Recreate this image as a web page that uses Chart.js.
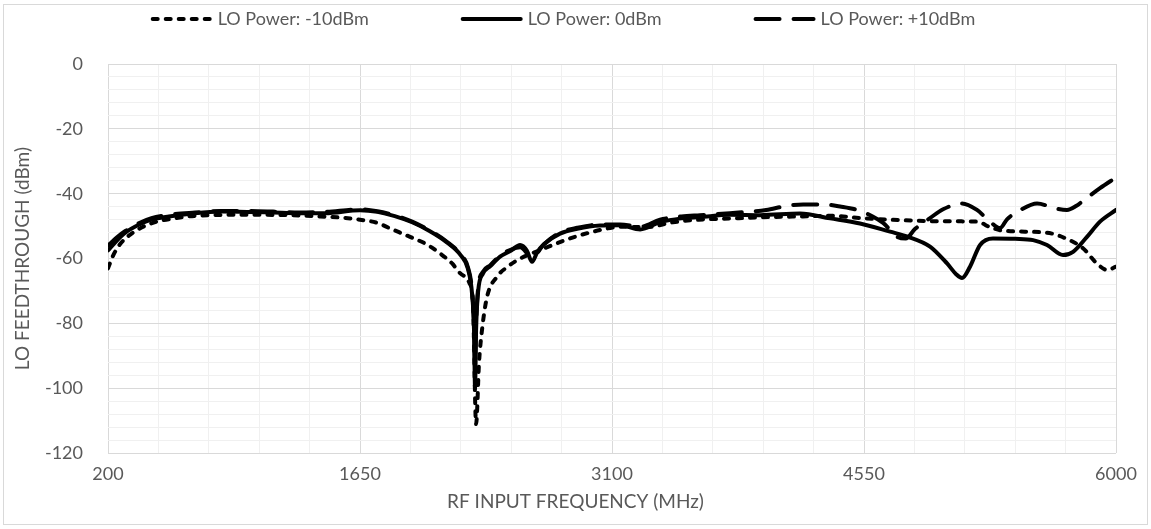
<!DOCTYPE html>
<html>
<head>
<meta charset="utf-8">
<script src="https://cdn.jsdelivr.net/npm/chart.js@4"></script>
<style>
html,body{margin:0;padding:0;background:#fff;}
#wrap{width:1151px;height:529px;position:relative;}
</style>
</head>
<body>
<div id="wrap"><canvas id="c" width="1151" height="529"></canvas></div>
<script>
// ---- data ----
const seriesNames = ["LO Power: -10dBm", "LO Power: 0dBm", "LO Power: +10dBm"];

const freqM10 = [200,230,270,330,440,580,780,1000,1250,1420,1550,1650,1750,1823,1938,2030,2110,2180,2226,2280,2300,2318,2335,2352,2381,2438,2500,2571,2686,2858,3031,3150,3300,3450,3600,3800,4000,4200,4355,4550,4843,5000,5200,5275,5350,5600,5720,5810,5890,5950,6000];
const valsM10 = [-63,-59,-55.5,-52.5,-49.3,-47.6,-46.6,-46.5,-46.6,-47,-47.4,-48,-49,-50.7,-53.3,-55.5,-58.4,-61.5,-64.5,-67.6,-74,-111,-92,-82,-71.8,-65.6,-62.5,-60,-57.4,-53.8,-51.2,-50.2,-50.3,-48.8,-48,-47.6,-47.2,-47,-46.8,-47.6,-48.3,-48.5,-48.6,-50.3,-51.4,-52,-54,-56.8,-61.5,-63.5,-62.5];

const freq0 = [200,250,300,380,450,550,700,850,1000,1150,1300,1450,1650,1750,1850,1950,2050,2150,2230,2270,2295,2306,2312,2318,2330,2358,2400,2456,2520,2571,2610,2640,2670,2710,2801,2900,3031,3147,3262,3376,3500,3606,3779,3952,4182,4355,4527,4700,4800,4930,5028,5080,5114,5160,5218,5292,5420,5523,5603,5695,5753,5833,5908,6000];
const vals0 = [-57.5,-54.5,-52,-49.5,-48,-47,-46,-45.5,-45.6,-45.8,-46,-46,-45.1,-45.6,-46.9,-48.8,-51.5,-55,-59,-63,-71,-82,-100,-82,-70,-64.6,-62.3,-59.4,-57.5,-55.8,-57.5,-61,-58,-55.5,-52.3,-50.8,-49.8,-49.7,-51,-48.8,-47.6,-47.2,-46.5,-46.6,-46.1,-47.6,-49.2,-51.7,-53.2,-56.3,-61.5,-64.8,-66,-62.5,-55.8,-53.8,-53.9,-54.3,-55.8,-58.9,-57.9,-53.3,-48.6,-45];

const freqP10 = [200,250,300,380,450,550,700,850,1000,1150,1300,1450,1650,1750,1850,1950,2050,2150,2230,2270,2295,2306,2312,2318,2330,2358,2400,2456,2520,2571,2640,2710,2801,2900,3031,3147,3262,3376,3500,3606,3779,3987,4100,4200,4315,4420,4510,4600,4660,4745,4790,4843,4930,5005,5114,5200,5275,5333,5373,5450,5546,5649,5718,5770,5822,5908,6000];
const valsP10 = [-56,-53.5,-51.5,-49,-47.5,-46.5,-45.8,-45.3,-45.3,-45.5,-45.8,-45.6,-44.8,-45.4,-46.7,-48.6,-51.3,-54.8,-58.8,-62.5,-70,-80,-92,-80,-69,-64,-62,-59,-57.2,-56.5,-59.5,-55.5,-52,-50.5,-49.5,-49.5,-50.2,-48,-47,-46.6,-46,-45,-43.8,-43.3,-43.3,-44,-45,-47,-49,-53.4,-53.8,-50.9,-47.5,-44.8,-43,-45,-48.6,-50.6,-47.9,-45,-43,-44.5,-45,-43.8,-41.7,-38.3,-35];

const xTickLabels = [200, 1650, 3100, 4550, 6000];
const yTickLabels = [0, -20, -40, -60, -80, -100, -120];

// ---- chart ----
function pts(fs, vs){ return fs.map((f,i)=>({x:f, y:vs[i]})); }
const TXT = '#595959';
const FONT = 'Lato';

const customLegend = {
  id: 'customLegend',
  afterDraw(chart){
    const ctx = chart.ctx;
    const ds = chart.data.datasets;
    const sw = 62, gap = 5, G = 92, cy = 19;
    ctx.save();
    ctx.font = '18px ' + FONT;
    const widths = ds.map(d => ctx.measureText(d.label).width);
    let total = 0;
    widths.forEach(w => total += sw + gap + w);
    total += G * (ds.length - 1);
    let x = 563 - total / 2;
    ds.forEach((d, i) => {
      ctx.beginPath();
      ctx.strokeStyle = d.borderColor;
      ctx.lineWidth = d.borderWidth;
      ctx.lineCap = d.borderCapStyle || 'butt';
      ctx.setLineDash(d.borderDash || []);
      const inset = (d.borderCapStyle === 'round') ? d.borderWidth/2 : 0;
      ctx.moveTo(x + inset, cy);
      ctx.lineTo(x + sw - inset, cy);
      ctx.stroke();
      ctx.setLineDash([]);
      ctx.fillStyle = TXT;
      ctx.textBaseline = 'middle';
      ctx.textAlign = 'left';
      ctx.fillText(d.label, x + sw + gap, cy);
      x += sw + gap + widths[i] + G;
    });
    ctx.restore();
  }
};

const frame = {
  id: 'frame',
  beforeDraw(chart){
    const ctx = chart.ctx;
    ctx.save();
    ctx.fillStyle = '#fff';
    ctx.fillRect(0, 0, chart.width, chart.height);
    ctx.strokeStyle = '#d9d9d9';
    ctx.lineWidth = 1;
    ctx.strokeRect(3.5, 4.5, 1144, 520);
    ctx.restore();
  }
};

new Chart(document.getElementById('c'), {
  type: 'line',
  data: {
    datasets: [
      { label: seriesNames[0], data: pts(freqM10, valsM10), borderColor: '#000', borderWidth: 4, borderDash: [5, 8], borderCapStyle: 'round', pointRadius: 0, cubicInterpolationMode: 'monotone', fill: false },
      { label: seriesNames[1], data: pts(freq0, vals0), borderColor: '#000', borderWidth: 4, borderCapStyle: 'round', borderJoinStyle: 'round', pointRadius: 0, cubicInterpolationMode: 'monotone', fill: false },
      { label: seriesNames[2], data: pts(freqP10, valsP10), borderColor: '#000', borderWidth: 4, borderDash: [24, 14], borderCapStyle: 'round', pointRadius: 0, cubicInterpolationMode: 'monotone', fill: false }
    ]
  },
  options: {
    responsive: false,
    animation: false,
    devicePixelRatio: 1,
    layout: { padding: { top: 64, left: 3, right: 3, bottom: 0 } },
    plugins: {
      legend: { display: false },
      tooltip: { enabled: false },
      title: {
        display: true, position: 'bottom', text: 'RF INPUT FREQUENCY (MHz)',
        color: TXT, font: { family: FONT, size: 19, weight: 'normal' },
        padding: { top: 0, bottom: 16 }
      }
    },
    scales: {
      x: {
        type: 'linear', min: 200, max: 6000,
        ticks: {
          stepSize: 290, autoSkip: false, maxRotation: 0, padding: 10,
          color: TXT, font: { family: FONT, size: 18 },
          callback: v => xTickLabels.includes(v) ? String(v) : ''
        },
        grid: {
          drawTicks: false,
          color: c => xTickLabels.includes(c.tick && c.tick.value) ? '#d9d9d9' : '#f0f0f0'
        },
        border: { display: false },
        afterFit: s => { s.height = 37; }
      },
      y: {
        type: 'linear', min: -120, max: 0,
        ticks: {
          stepSize: 4, autoSkip: false, padding: 25,
          color: TXT, font: { family: FONT, size: 18 },
          callback: v => yTickLabels.includes(v) ? String(v) : ''
        },
        grid: {
          drawTicks: false,
          color: c => yTickLabels.includes(c.tick && c.tick.value) ? '#d9d9d9' : '#f0f0f0'
        },
        border: { display: false },
        title: {
          display: true, text: 'LO FEEDTHROUGH (dBm)', color: TXT,
          font: { family: FONT, size: 19 }, padding: { top: 8, bottom: 0 }
        },
        afterFit: s => { s.width = 105; }
      },
      yr: {
        type: 'linear', position: 'right', display: true,
        ticks: { display: false },
        grid: { display: false, drawOnChartArea: false },
        border: { display: false },
        afterFit: s => { s.width = 32; }
      }
    }
  },
  plugins: [frame, customLegend]
});
</script>
</body>
</html>
